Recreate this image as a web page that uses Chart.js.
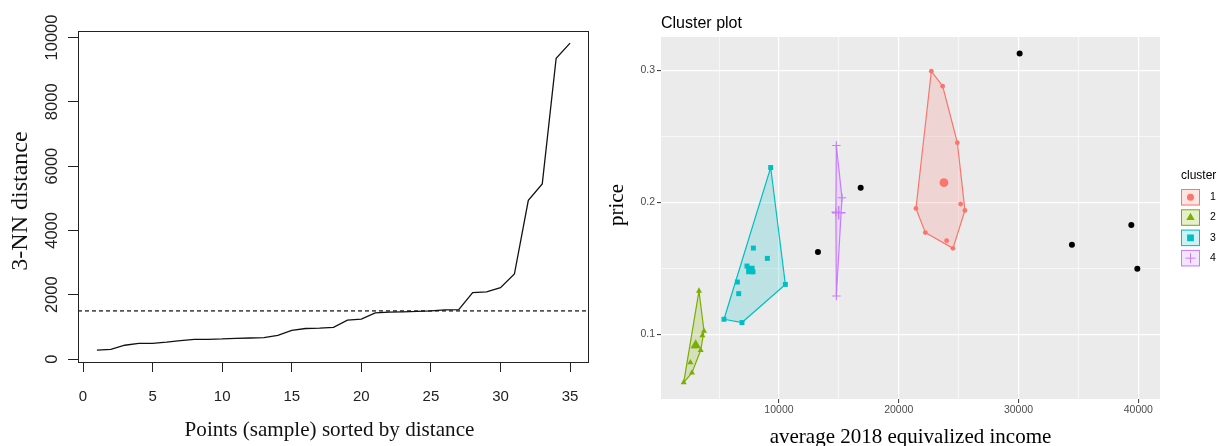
<!DOCTYPE html>
<html><head><meta charset="utf-8">
<script src="https://cdn.jsdelivr.net/npm/chart.js@4.4.1/dist/chart.umd.min.js"></script>
<style>
html,body{margin:0;padding:0;background:#fff;}
#wrap{position:relative;width:1220px;height:446px;overflow:hidden;background:#fff;}
#c1{position:absolute;left:0;top:0;}
#c2{position:absolute;left:600px;top:0;}
</style></head><body>
<div id="wrap">
<canvas id="c1" width="600" height="446"></canvas>
<canvas id="c2" width="620" height="446"></canvas>
</div>
<script>
// ---------- Left panel: sorted 3-NN distances ----------
const knnRank = [1,2,3,4,5,6,7,8,9,10,11,12,13,14,15,16,17,18,19,20,21,22,23,24,25,26,27,28,29,30,31,32,33,34,35];
const knnDist = [280,300,430,490,490,525,575,610,615,625,645,655,665,740,895,950,960,985,1210,1240,1435,1460,1470,1480,1500,1530,1540,2065,2090,2220,2645,4935,5445,9355,9825];
const epsValue = 1500;
const knnXTicks = [0,5,10,15,20,25,30,35];
const knnYTicks = [0,2000,4000,6000,8000,10000];
const knnXLimits = [-0.36, 36.36];
const knnYLimits = [-91, 10201];

// ---------- Right panel: cluster plot ----------
const clusterNames = ['1','2','3','4'];
const clusterColors = ['#F8766D','#7CAE00','#00BFC4','#C77CFF'];
const clusterFills = ['rgba(248,118,109,0.2)','rgba(124,174,0,0.2)','rgba(0,191,196,0.2)','rgba(199,124,255,0.2)'];
const clusterShapes = ['circle','triangle','rect','cross'];
const income1 = [22720,23664,24891,25167,25526,21436,22220,23998,24524];
const price1  = [0.2992,0.2879,0.2451,0.1986,0.1938,0.1953,0.1770,0.1709,0.1651];
const income2 = [3322,3740,3606,2963,3464,2604,2738,2045];
const price2  = [0.1328,0.1025,0.0992,0.0907,0.0879,0.0786,0.0710,0.0635];
const income3 = [9307,10534,6912,5409,6528,6636,7863,9032,7329,7830];
const price3  = [0.2263,0.1378,0.1089,0.1114,0.1396,0.1308,0.1653,0.1575,0.1517,0.1474];
const income4 = [14791,15259,14750,14791];
const price4  = [0.2430,0.2034,0.1925,0.1290];
const centerIncome = [23773,3047,7613,14983];
const centerPrice  = [0.2148,0.0917,0.1487,0.1921];
const noiseIncome = [13255,16820,30092,34457,39415,39916];
const noisePrice  = [0.1623,0.2110,0.3126,0.1679,0.1827,0.1497];
const incomeGrid = [5000,10000,15000,20000,25000,30000,35000,40000];
const incomeLabels = [10000,20000,30000,40000];
const priceGrid = [0.1,0.15,0.2,0.25,0.3];
const priceLabels = [0.1,0.2,0.3];
const incomeLimits = [151, 41810];
const priceLimits = [0.05104, 0.3251];

// ---------- helpers ----------
function txt(ctx, s, x, y, o) {
  ctx.save();
  ctx.translate(x, y);
  if (o.rot) ctx.rotate(o.rot);
  ctx.scale(o.sx || 1, o.sy || 1);
  ctx.font = o.font;
  ctx.fillStyle = o.color || '#000';
  ctx.textAlign = o.align || 'center';
  ctx.textBaseline = o.base || 'middle';
  ctx.fillText(s, 0, 0);
  ctx.restore();
}
function pts(xs, ys) { return xs.map((x, i) => ({x: x, y: ys[i]})); }
function hull(points) {
  const p = points.slice().sort((a, b) => a.x - b.x || a.y - b.y);
  const cross = (o, a, b) => (a.x - o.x) * (b.y - o.y) - (a.y - o.y) * (b.x - o.x);
  const lower = [], upper = [];
  for (const q of p) { while (lower.length >= 2 && cross(lower[lower.length-2], lower[lower.length-1], q) <= 0) lower.pop(); lower.push(q); }
  for (let i = p.length - 1; i >= 0; i--) { const q = p[i]; while (upper.length >= 2 && cross(upper[upper.length-2], upper[upper.length-1], q) <= 0) upper.pop(); upper.push(q); }
  upper.pop(); lower.pop();
  const h = lower.concat(upper);
  h.push(h[0]);
  return h;
}
const near = (v, arr) => arr.some(a => Math.abs(a - v) < 1e-9);

// ---------- Left chart ----------
const leftPlugin = {
  id: 'leftDeco',
  afterDraw(chart) {
    const {ctx, chartArea: a, scales} = chart;
    ctx.save();
    ctx.strokeStyle = '#222'; ctx.lineWidth = 1;
    ctx.strokeRect(Math.round(a.left) + 0.5, Math.round(a.top) + 0.5, Math.round(a.right - a.left) - 1, Math.round(a.bottom - a.top));
    ctx.restore();
    knnYTicks.forEach(v => {
      txt(ctx, String(v), 52.5, scales.y.getPixelForValue(v), {rot: -Math.PI/2, font: '16.5px "Liberation Sans", Arial, sans-serif', color: '#222'});
    });
    txt(ctx, 'Points (sample) sorted by distance', (a.left + a.right) / 2 - 4, 430, {font: '22px "Liberation Serif", "Times New Roman", serif', color: '#111', sx: 0.96});
    txt(ctx, '3-NN distance', 21, 201, {rot: -Math.PI/2, font: '24px "Liberation Serif", "Times New Roman", serif', color: '#111', sy: 0.92});
  }
};

new Chart(document.getElementById('c1'), {
  type: 'scatter',
  data: {datasets: [
    {data: pts(knnRank, knnDist), showLine: true, borderColor: '#111', borderWidth: 1.3, pointRadius: 0, tension: 0},
    {data: pts(knnXLimits, [epsValue, epsValue]), showLine: true, borderColor: '#555', borderWidth: 1.6, borderDash: [4, 3], pointRadius: 0}
  ]},
  options: {
    responsive: false, animation: false, devicePixelRatio: 1,
    layout: {padding: {top: 31, right: 11, left: 0, bottom: 0}},
    plugins: {legend: {display: false}, tooltip: {enabled: false}},
    scales: {
      x: {type: 'linear', min: knnXLimits[0], max: knnXLimits[1],
        afterBuildTicks: s => { s.ticks = knnXTicks.map(v => ({value: v})); },
        afterFit: s => { s.height = 84; },
        grid: {drawOnChartArea: false, drawTicks: true, tickLength: 10, color: '#222', tickColor: '#222', lineWidth: 1},
        border: {display: false},
        ticks: {padding: 16, autoSkip: false, maxRotation: 0, font: {family: '"Liberation Sans", Arial, sans-serif', size: 15}, color: '#222'}},
      y: {type: 'linear', min: knnYLimits[0], max: knnYLimits[1],
        afterBuildTicks: s => { s.ticks = knnYTicks.map(v => ({value: v})); },
        afterFit: s => { s.width = 78; },
        grid: {drawOnChartArea: false, drawTicks: true, tickLength: 10, color: '#222', tickColor: '#222', lineWidth: 1},
        border: {display: false},
        ticks: {display: false}}
    }
  },
  plugins: [leftPlugin]
});

// ---------- Right chart ----------
const groups = [pts(income1, price1), pts(income2, price2), pts(income3, price3), pts(income4, price4)];
const sizes = {circle: [2.4, 4.4], triangle: [3.5, 6.0], rect: [3.5, 6.0], cross: [4.2, 6.8]};
const datasets = [];
groups.forEach((g, i) => {
  const shape = clusterShapes[i];
  datasets.push({data: [{x: centerIncome[i], y: centerPrice[i]}], pointStyle: shape, pointRadius: sizes[shape][1],
    backgroundColor: clusterColors[i], borderColor: clusterColors[i], borderWidth: shape === 'cross' ? 1.4 : 0, order: 0});
  datasets.push({data: g, pointStyle: shape, pointRadius: sizes[shape][0],
    backgroundColor: clusterColors[i], borderColor: clusterColors[i], borderWidth: shape === 'cross' ? 1.1 : 0, order: 1});
  datasets.push({data: hull(g), showLine: true, fill: 'shape', backgroundColor: clusterFills[i], borderColor: clusterColors[i],
    borderWidth: 1.2, pointRadius: 0, tension: 0, order: 3});
});
datasets.push({data: pts(noiseIncome, noisePrice), pointStyle: 'circle', pointRadius: 3, backgroundColor: '#000', borderWidth: 0, order: 1});

function shapePath(ctx, shape, x, y, r) {
  ctx.beginPath();
  if (shape === 'circle') { ctx.arc(x, y, r, 0, Math.PI * 2); ctx.fill(); }
  else if (shape === 'triangle') { for (let k = 0; k < 3; k++) { const ang = k * 2 * Math.PI / 3; const px = x + Math.sin(ang) * r, py = y - Math.cos(ang) * r; k ? ctx.lineTo(px, py) : ctx.moveTo(px, py); } ctx.closePath(); ctx.fill(); }
  else if (shape === 'rect') { const s = Math.SQRT1_2 * r; ctx.rect(x - s, y - s, 2 * s, 2 * s); ctx.fill(); }
  else { ctx.moveTo(x - r, y); ctx.lineTo(x + r, y); ctx.moveTo(x, y - r); ctx.lineTo(x, y + r); ctx.stroke(); }
}

const rightPlugin = {
  id: 'rightDeco',
  beforeDraw(chart) {
    const {ctx, chartArea: a} = chart;
    ctx.save(); ctx.fillStyle = '#EBEBEB'; ctx.fillRect(a.left, a.top, a.right - a.left, a.bottom - a.top); ctx.restore();
  },
  afterDraw(chart) {
    const {ctx, chartArea: a} = chart;
    txt(ctx, 'Cluster plot', a.left, 28, {font: '16px "Liberation Sans", Arial, sans-serif', color: '#000', align: 'left', base: 'alphabetic'});
    txt(ctx, 'average 2018 equivalized income', (a.left + a.right) / 2, 443, {font: '21px "Liberation Serif", "Times New Roman", serif', color: '#000', base: 'alphabetic'});
    txt(ctx, 'price', 17, (a.top + a.bottom) / 2 - 13, {rot: -Math.PI/2, font: '21px "Liberation Serif", "Times New Roman", serif', color: '#000'});
    // legend
    const lx = a.right + 21;
    txt(ctx, 'cluster', lx, 176, {font: '12px "Liberation Sans", Arial, sans-serif', color: '#000', align: 'left'});
    clusterNames.forEach((nm, i) => {
      const top = 189 + i * 20.3, h = 16.5, w = 19;
      ctx.save();
      ctx.fillStyle = '#fff'; ctx.fillRect(lx, top, w, h);
      ctx.fillStyle = clusterFills[i]; ctx.fillRect(lx, top, w, h);
      ctx.strokeStyle = clusterColors[i]; ctx.lineWidth = 1; ctx.strokeRect(lx + 0.5, top + 0.5, w - 1, h - 1);
      ctx.fillStyle = clusterColors[i]; ctx.strokeStyle = clusterColors[i]; ctx.lineWidth = 1;
      const sh = clusterShapes[i];
      shapePath(ctx, sh, lx + w / 2, top + h / 2, {circle: 3.5, triangle: 4.8, rect: 4.8, cross: 5}[sh]);
      ctx.restore();
      txt(ctx, nm, lx + 29, top + h / 2, {font: '10.5px "Liberation Sans", Arial, sans-serif', color: '#000', align: 'left'});
    });
  }
};

new Chart(document.getElementById('c2'), {
  type: 'scatter',
  data: {datasets: datasets},
  options: {
    responsive: false, animation: false, devicePixelRatio: 1,
    layout: {padding: {top: 37, right: 60, left: 0, bottom: 0}},
    plugins: {legend: {display: false}, tooltip: {enabled: false}},
    scales: {
      x: {type: 'linear', min: incomeLimits[0], max: incomeLimits[1],
        afterBuildTicks: s => { s.ticks = incomeGrid.map(v => ({value: v})); },
        afterFit: s => { s.height = 47; },
        grid: {color: '#fff', lineWidth: c => near(c.tick.value, incomeLabels) ? 1.2 : 0.6, drawTicks: true, tickLength: 4, tickWidth: 1,
          tickColor: c => near(c.tick.value, incomeLabels) ? '#333' : 'rgba(0,0,0,0)'},
        border: {display: false},
        ticks: {autoSkip: false, maxRotation: 0, padding: 1, font: {family: '"Liberation Sans", Arial, sans-serif', size: 10.5}, color: '#4D4D4D',
          callback: v => near(v, incomeLabels) ? String(v) : ''}},
      y: {type: 'linear', min: priceLimits[0], max: priceLimits[1],
        afterBuildTicks: s => { s.ticks = priceGrid.map(v => ({value: v})); },
        afterFit: s => { s.width = 61; },
        grid: {color: '#fff', lineWidth: c => near(c.tick.value, priceLabels) ? 1.2 : 0.6, drawTicks: true, tickLength: 4, tickWidth: 1,
          tickColor: c => near(c.tick.value, priceLabels) ? '#333' : 'rgba(0,0,0,0)'},
        border: {display: false},
        ticks: {autoSkip: false, padding: 2, font: {family: '"Liberation Sans", Arial, sans-serif', size: 10.5}, color: '#4D4D4D',
          callback: v => near(v, priceLabels) ? String(v) : ''}}
    }
  },
  plugins: [rightPlugin]
});
</script>
</body></html>
